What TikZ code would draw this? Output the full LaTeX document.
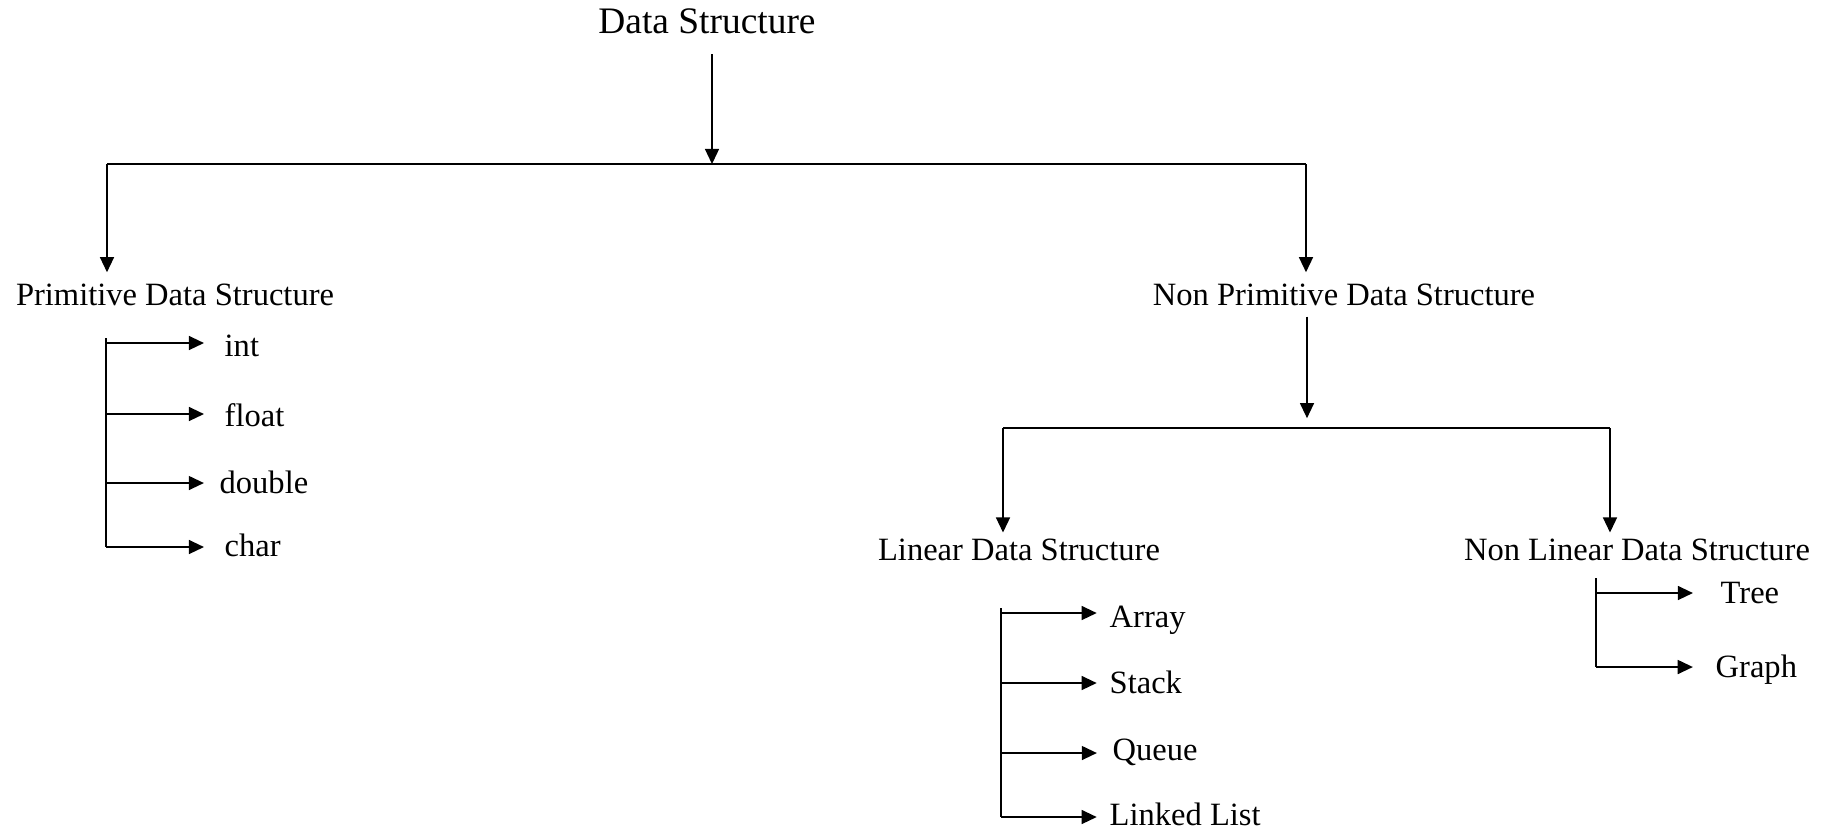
\documentclass[tikz,border=0pt]{standalone}
\usepackage{fontspec}
\setmainfont{Liberation Serif}
\usetikzlibrary{arrows.meta}

\begin{document}
\begin{tikzpicture}[x=0.01cm, y=0.01cm, every node/.style={inner sep=3pt, font=\fontsize{9.25}{11}\selectfont},
  link/.style={draw=black, line width=0.4pt},
  arr/.style={link, -{Triangle[length=4.3pt,width=4pt]}}]
\tikzstyle{item}=[inner sep=0pt, anchor=base west]
\tikzstyle{spine}=[draw=black, line width=0.6pt]
\useasboundingbox (0,0) rectangle (1833,-832);
% top level
\node (ds) [anchor=base, font=\fontsize{10.64}{13}\selectfont] at (707,-33) {Data Structure};
\node (pds) [anchor=base] at (175,-305) {Primitive Data Structure};
\node (npds) [anchor=base] at (1344,-305) {Non Primitive Data Structure};
\node (lds) [anchor=base] at (1019,-560) {Linear Data Structure};
\node (nlds) [anchor=base] at (1637,-560) {Non Linear Data Structure};
% first split
\coordinate (b1M) at (712,-164);
\coordinate (b1L) at (107,-164);
\coordinate (b1R) at (1306,-164);
\draw [arr, shorten <=2.7pt] (ds.south -| b1M) -- (b1M);
\draw [link] (b1L) -- (b1R);
\draw [arr] (b1L) -- (b1L |- pds.north);
\draw [arr] (b1R) -- (b1R |- npds.north);
% second split
\coordinate (b2M) at (1307,-428);
\coordinate (b2L) at (1003,-428);
\coordinate (b2R) at (1610,-428);
\draw [arr, shorten >=2.8pt] (npds.south -| b2M) -- (b2M);
\draw [link] (b2L) -- (b2R);
\draw [arr, shorten >=-1.5pt] (b2L) -- (b2L |- lds.north);
\draw [arr, shorten >=-1.5pt] (b2R) -- (b2R |- nlds.north);
% primitive types
\node (int) [item] at (224,-356) {int};
\node (float) [item] at (224,-426) {float};
\node (double) [item] at (219,-493) {double};
\node (char) [item] at (224,-556) {char};
\coordinate (pTop) at (106,-338);
\coordinate (p1) at (106,-343);
\coordinate (p2) at (106,-414);
\coordinate (p3) at (106,-483);
\coordinate (p4) at (106,-547);
\draw [spine] (pTop) -- (p4);
\draw [arr, shorten >=5.7pt] (p1) -- (p1 -| int.west);
\draw [arr, shorten >=5.7pt] (p2) -- (p2 -| float.west);
\draw [arr, shorten >=4.3pt] (p3) -- (p3 -| double.west);
\draw [arr, shorten >=5.7pt] (p4) -- (p4 -| char.west);
% linear
\node (array) [item] at (1109,-627) {Array};
\node (stack) [item] at (1109,-693) {Stack};
\node (queue) [item] at (1112,-760) {Queue};
\node (llist) [item] at (1109,-825) {Linked List};
\coordinate (lTop) at (1001,-608);
\coordinate (l1) at (1001,-613);
\coordinate (l2) at (1001,-683);
\coordinate (l3) at (1001,-753);
\coordinate (l4) at (1001,-817);
\draw [spine] (lTop) -- (l4);
\draw [arr, shorten >=3.5pt] (l1) -- (l1 -| array.west);
\draw [arr, shorten >=3.5pt] (l2) -- (l2 -| stack.west);
\draw [arr, shorten >=4.3pt] (l3) -- (l3 -| queue.west);
\draw [arr, shorten >=3.5pt] (l4) -- (l4 -| llist.west);
% non linear
\node (tree) [item] at (1720,-603) {Tree};
\node (graph) [item] at (1715,-677) {Graph};
\coordinate (nTop) at (1596,-578);
\coordinate (n1) at (1596,-593);
\coordinate (n2) at (1596,-667);
\draw [spine] (nTop) -- (n2);
\draw [arr, shorten >=7.7pt] (n1) -- (n1 -| tree.west);
\draw [arr, shorten >=6.3pt] (n2) -- (n2 -| graph.west);
\end{tikzpicture}
\end{document}
